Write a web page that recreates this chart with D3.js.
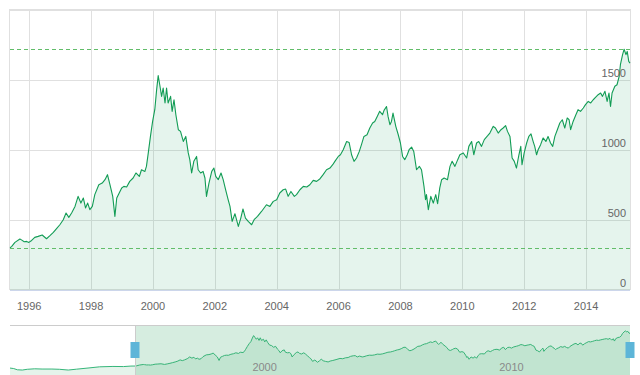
<!DOCTYPE html>
<html>
<head>
<meta charset="utf-8">
<style>
  body { margin: 0; background: #fff; }
  svg text { font-family: "Liberation Sans", Arial, sans-serif; font-size: 11px; }
</style>
</head>
<body>
<svg id="chart" width="640" height="375"></svg>
<script src="https://cdn.jsdelivr.net/npm/d3@7/dist/d3.min.js"></script>
<script>
  // decimal years of each point in the zoomed range
  const years = [
    1995.38, 1995.43, 1995.54, 1995.70, 1995.75, 1995.84, 1995.92, 1995.99, 1996.08, 1996.18,
    1996.29, 1996.42, 1996.56, 1996.67, 1996.78, 1996.89, 1996.99, 1997.10, 1997.19, 1997.28,
    1997.37, 1997.48, 1997.58, 1997.67, 1997.75, 1997.82, 1997.89, 1997.96, 1998.04, 1998.12,
    1998.25, 1998.36, 1998.45, 1998.53, 1998.61, 1998.70, 1998.77, 1998.83, 1998.91, 1998.99,
    1999.06, 1999.15, 1999.25, 1999.36, 1999.45, 1999.56, 1999.63, 1999.74, 1999.79, 1999.85,
    1999.92, 1999.99, 2000.06, 2000.12, 2000.17, 2000.22, 2000.28, 2000.33, 2000.39, 2000.44,
    2000.49, 2000.57, 2000.62, 2000.68, 2000.74, 2000.82, 2000.89, 2000.98, 2001.06, 2001.14,
    2001.19, 2001.25, 2001.32, 2001.41, 2001.46, 2001.54, 2001.62, 2001.68, 2001.73, 2001.81,
    2001.90, 2001.97, 2002.03, 2002.11, 2002.20, 2002.27, 2002.35, 2002.43, 2002.49, 2002.56,
    2002.65, 2002.76, 2002.84, 2002.91, 2002.99, 2003.08, 2003.19, 2003.27, 2003.38, 2003.51,
    2003.67, 2003.78, 2003.89, 2004.00, 2004.10, 2004.21, 2004.29, 2004.37, 2004.46, 2004.57,
    2004.64, 2004.75, 2004.86, 2004.97, 2005.07, 2005.18, 2005.29, 2005.40, 2005.50, 2005.61,
    2005.72, 2005.81, 2005.88, 2005.99, 2006.06, 2006.15, 2006.26, 2006.34, 2006.42, 2006.50,
    2006.58, 2006.67, 2006.74, 2006.82, 2006.92, 2007.01, 2007.10, 2007.17, 2007.25, 2007.33,
    2007.42, 2007.47, 2007.55, 2007.60, 2007.66, 2007.71, 2007.76, 2007.85, 2007.93, 2008.00,
    2008.07, 2008.14, 2008.22, 2008.28, 2008.36, 2008.43, 2008.52, 2008.61, 2008.68, 2008.76,
    2008.81, 2008.84, 2008.90, 2008.98, 2009.06, 2009.14, 2009.20, 2009.27, 2009.33, 2009.41,
    2009.52, 2009.60, 2009.67, 2009.76, 2009.85, 2009.92, 2010.03, 2010.14, 2010.21, 2010.30,
    2010.37, 2010.46, 2010.53, 2010.62, 2010.71, 2010.82, 2010.89, 2011.00, 2011.07, 2011.16,
    2011.25, 2011.32, 2011.40, 2011.46, 2011.54, 2011.61, 2011.68, 2011.75, 2011.83, 2011.89,
    2011.93, 2012.00, 2012.08, 2012.15, 2012.22, 2012.29, 2012.34, 2012.40, 2012.45, 2012.53,
    2012.61, 2012.70, 2012.77, 2012.85, 2012.92, 2012.99, 2013.07, 2013.15, 2013.23, 2013.31,
    2013.39, 2013.45, 2013.50, 2013.58, 2013.67, 2013.74, 2013.82, 2013.91, 2013.98, 2014.07,
    2014.15, 2014.23, 2014.32, 2014.39, 2014.47, 2014.53, 2014.61, 2014.68, 2014.74, 2014.79,
    2014.84, 2014.93, 2015.00, 2015.07, 2015.11, 2015.18, 2015.23, 2015.29, 2015.33, 2015.38,
    2015.42
  ]
  const values = [
    302, 310, 340, 364, 358, 345, 347, 340, 354, 376,
    383, 393, 366, 388, 411, 440, 466, 502, 550, 519,
    550, 597, 669, 621, 657, 586, 621, 574, 597, 681,
    752, 764, 788, 824, 752, 669, 526, 657, 693, 729,
    740, 736, 776, 800, 836, 811, 859, 847, 883, 979,
    1097, 1204, 1288, 1431, 1531, 1466, 1383, 1443, 1336, 1443,
    1336, 1383, 1276, 1359, 1252, 1145, 1133, 1061, 1097, 979,
    931, 836, 919, 954, 859, 836, 847, 800, 669, 764,
    847, 871, 811, 788, 836, 788, 716, 645, 597, 490,
    545, 454, 514, 579, 514, 490, 466, 502, 526, 561,
    609, 597, 633, 645, 693, 716, 721, 669, 704, 669,
    681, 716, 740, 736, 752, 783, 776, 795, 824, 859,
    871, 895, 919, 954, 966, 1002, 1061, 1054, 966, 919,
    943, 990, 1038, 1097, 1109, 1157, 1193, 1204, 1240, 1276,
    1252, 1283, 1311, 1240, 1181, 1204, 1264, 1169, 1109, 1050,
    954, 931, 966, 1002, 1021, 990, 859, 883, 859, 740,
    645, 681, 574, 669, 621, 681, 616, 729, 788, 800,
    788, 883, 919, 883, 931, 966, 979, 943, 1026, 1061,
    966, 1050, 1061, 1026, 1074, 1102, 1121, 1169, 1157, 1121,
    1145, 1157, 1174, 1133, 1097, 943, 919, 871, 966, 1026,
    895, 979, 1050, 1097, 1115, 1060, 1026, 966, 1002, 1038,
    1086, 1061, 1097, 1050, 1026, 1097, 1145, 1193, 1216, 1157,
    1229, 1216, 1145, 1204, 1252, 1288, 1276, 1300, 1324, 1347,
    1336, 1359, 1379, 1395, 1407, 1383, 1419, 1347, 1407, 1311,
    1407, 1455, 1466, 1526, 1609, 1681, 1720, 1681, 1704, 1633,
    1621
  ]
  // older history only visible in the navigator
  const earlyYears = [1990.30, 1990.45, 1990.60, 1990.80, 1991.00, 1991.30, 1991.60, 1992.00,
    1992.30, 1992.66, 1993.00, 1993.50, 1993.93, 1994.47, 1994.90, 1995.20]
  const earlyValues = [220, 200, 150, 140, 170, 190, 180, 180, 170, 140, 175, 225, 270, 285, 280, 300]

  const yTicks = [0, 500, 1000, 1500, 2000]
  const yLabels = [0, 500, 1000, 1500]
  const xTicks = [1996, 1998, 2000, 2002, 2004, 2006, 2008, 2010, 2012, 2014]
  const navTicks = [2000, 2010]

  function yearToDate (y) {
    const yr = Math.floor(y)
    const a = new Date(yr, 0, 1)
    const b = new Date(yr + 1, 0, 1)
    return new Date(+a + (y - yr) * (b - a))
  }

  const data = years.map((y, i) => ({ date: yearToDate(y), value: values[i] }))
  const fullData = earlyYears.map((y, i) => ({ date: yearToDate(y), value: earlyValues[i] })).concat(data)

  const svg = d3.select('#chart')
  const pLeft = 10, pRight = 630, pTop = 10, pBottom = 290

  const x = d3.scaleTime().domain(d3.extent(data, d => d.date)).range([pLeft, pRight])
  const y = d3.scaleLinear().domain([0, 2000]).range([pBottom, pTop])

  // grid
  svg.append('g').selectAll('line').data(yTicks).enter().append('line')
    .attr('x1', pLeft).attr('x2', pRight)
    .attr('y1', d => Math.round(y(d)) + 0.5).attr('y2', d => Math.round(y(d)) + 0.5)
    .attr('stroke', '#e0e0e0')
  svg.append('g').selectAll('line').data(xTicks).enter().append('line')
    .attr('x1', d => Math.round(x(yearToDate(d))) + 0.5).attr('x2', d => Math.round(x(yearToDate(d))) + 0.5)
    .attr('y1', pTop).attr('y2', pBottom)
    .attr('stroke', '#e0e0e0')
  svg.append('rect').attr('x', pLeft - 0.5).attr('y', pTop - 0.5)
    .attr('width', pRight - pLeft + 1).attr('height', pBottom - pTop)
    .attr('fill', 'none').attr('stroke', '#e0e0e0')

  // series
  svg.append('path').datum(data)
    .attr('d', d3.area().x(d => x(d.date)).y0(pBottom).y1(d => y(d.value)))
    .attr('fill', 'rgba(16,157,88,0.11)')
  svg.append('path').datum(data)
    .attr('d', d3.line().x(d => x(d.date)).y(d => y(d.value)))
    .attr('fill', 'none').attr('stroke', '#129c55').attr('stroke-width', 1.1)
    .attr('stroke-linejoin', 'round')

  // min / max lines
  const ext = d3.extent(values)
  svg.append('g').selectAll('line').data(ext).enter().append('line')
    .attr('x1', pLeft).attr('x2', pRight)
    .attr('y1', d => Math.round(y(d)) + 0.5).attr('y2', d => Math.round(y(d)) + 0.5)
    .attr('stroke', '#62bd6a').attr('stroke-dasharray', '4,3')

  // x axis line
  svg.append('line').attr('x1', pLeft).attr('x2', pRight)
    .attr('y1', pBottom + 0.5).attr('y2', pBottom + 0.5).attr('stroke', '#ccd6eb')

  // labels
  svg.append('g').selectAll('text').data(yLabels).enter().append('text')
    .attr('x', pRight - 4).attr('y', d => y(d) - 3)
    .attr('text-anchor', 'end').attr('fill', '#666')
    .text(d => d)
  svg.append('g').selectAll('text').data(xTicks).enter().append('text')
    .attr('x', d => x(yearToDate(d))).attr('y', 310)
    .attr('text-anchor', 'middle').attr('fill', '#666')
    .text(d => d)

  // navigator
  const navTop = 325, navBottom = 375
  const nx = d3.scaleTime().domain(d3.extent(fullData, d => d.date)).range([pLeft, pRight])
  const ny = d3.scaleLinear().domain([0, 2000]).range([373.5, 324])

  svg.append('path').datum(fullData)
    .attr('d', d3.area().x(d => nx(d.date)).y0(navBottom).y1(d => ny(d.value)))
    .attr('fill', '#e5f4eb')
  svg.append('path').datum(fullData)
    .attr('d', d3.line().x(d => nx(d.date)).y(d => ny(d.value)))
    .attr('fill', 'none').attr('stroke', '#36b67a').attr('stroke-width', 1)

  const selStart = nx(data[0].date), selEnd = nx(data[data.length - 1].date)
  svg.append('rect').attr('x', selStart).attr('y', navTop)
    .attr('width', selEnd - selStart).attr('height', navBottom - navTop)
    .attr('fill', 'rgba(60,170,110,0.21)')

  svg.append('line').attr('x1', pLeft).attr('x2', pRight)
    .attr('y1', navTop + 0.5).attr('y2', navTop + 0.5).attr('stroke', '#cccccc')
  svg.append('line').attr('x1', Math.round(selStart) + 0.5).attr('x2', Math.round(selStart) + 0.5)
    .attr('y1', navTop).attr('y2', navBottom).attr('stroke', '#cccccc')

  svg.append('g').selectAll('text').data(navTicks).enter().append('text')
    .attr('x', d => nx(yearToDate(d)) + 3).attr('y', 371)
    .attr('fill', '#8a8a8a')
    .text(d => d)

  // handles
  svg.append('g').selectAll('rect').data([selStart, selEnd]).enter().append('rect')
    .attr('x', d => Math.round(d) - 4.5).attr('y', 342)
    .attr('width', 9).attr('height', 16)
    .attr('fill', '#5db5d8')
</script>
</body>
</html>
